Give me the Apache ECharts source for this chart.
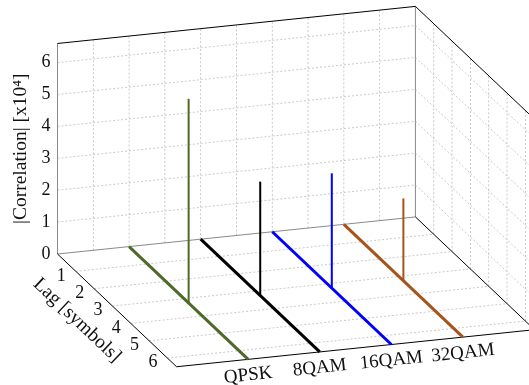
<!DOCTYPE html>
<html>
<head>
<meta charset="utf-8">
<script src="https://cdn.jsdelivr.net/npm/echarts@6/dist/echarts.min.js"></script>
<style>
  html, body { margin: 0; padding: 0; background: #ffffff; }
  #chart { width: 529px; height: 385px; }
</style>
</head>
<body>
<div id="chart"></div>
<script>
// Peak |correlation| (x10^4) of each modulation format and the lag where it occurs.
const modulations = ['QPSK', '8QAM', '16QAM', '32QAM'];
const modulationPos = [1, 2, 3, 4];
const peakCorrelation = [6.4, 3.57, 3.6, 2.58];
const peakLag = [3.25, 3.25, 3.25, 3.25];
const lineColors = ['#4e6a2a', '#000000', '#0000ff', '#a5541b'];

// Axis ranges and ticks of the 3-D box.
const formatRange = [0, 5];
const formatGrid = [0.5, 1, 1.5, 2, 2.5, 3, 3.5, 4, 4.5];
const lagRange = [0, 6.5];
const lagTicks = [1, 2, 3, 4, 5, 6];
const corrRange = [0, 6.6];
const corrTicks = [0, 1, 2, 3, 4, 5, 6];

// Orthographic camera: azimuth/elevation in degrees, plot-box aspect,
// scale in px per box unit and the pixel where the back-left floor corner sits.
const camera = {
  azimuth: -18.3,
  elevation: 18.25,
  aspect: [1, 1.006, 0.588],
  pxPerUnit: 377,
  anchor: [57.5, 254]
};

const FAMILY = '"Liberation Serif", "Times New Roman", serif';
const TICK_FONT = '18px ' + FAMILY;
const CATEGORY_FONT = '19px ' + FAMILY;
const TITLE_FONT = '19.5px ' + FAMILY;
const GRID_STYLE = { stroke: '#bcbcbc', lineWidth: 0.8, lineDash: [2, 2] };

function project(fx, lag, corr) {
  const X = (fx - formatRange[0]) / (formatRange[1] - formatRange[0]);
  const Yr = 1 - (lag - lagRange[0]) / (lagRange[1] - lagRange[0]); // lag grows toward the viewer
  const Z = (corr - corrRange[0]) / (corrRange[1] - corrRange[0]);
  const a = camera.azimuth * Math.PI / 180;
  const e = camera.elevation * Math.PI / 180;
  const [ax, ay, az] = camera.aspect;
  const h = Math.cos(a) * ax * X + Math.sin(a) * ay * Yr;
  const v = -Math.sin(e) * Math.sin(a) * ax * X + Math.sin(e) * Math.cos(a) * ay * Yr + Math.cos(e) * az * Z;
  return [h, v];
}

const chartDom = document.getElementById('chart');
const chart = echarts.init(chartDom, null, { renderer: 'canvas' });
const W = chartDom.clientWidth, H = chartDom.clientHeight;

// 2-D view-plane window that frames the projected box.
const corner = project(formatRange[0], lagRange[0], corrRange[0]);
const viewXMin = corner[0] - camera.anchor[0] / camera.pxPerUnit;
const viewXMax = viewXMin + W / camera.pxPerUnit;
const viewYMax = corner[1] + camera.anchor[1] / camera.pxPerUnit;
const viewYMin = viewYMax - H / camera.pxPerUnit;

// Segment list: [fx0, lag0, corr0, fx1, lag1, corr1]
const F0 = formatRange[0], F1 = formatRange[1];
const L0 = lagRange[0], L1 = lagRange[1];
const C0 = corrRange[0], C1 = corrRange[1];

const gridSegments = [];
formatGrid.forEach(f => gridSegments.push([f, L0, C0, f, L0, C1]));       // back wall, verticals
corrTicks.slice(1).forEach(c => gridSegments.push([F0, L0, c, F1, L0, c])); // back wall, levels
lagTicks.forEach(l => gridSegments.push([F1, l, C0, F1, l, C1]));          // side wall, verticals
corrTicks.slice(1).forEach(c => gridSegments.push([F1, L0, c, F1, L1, c])); // side wall, levels
lagTicks.forEach(l => gridSegments.push([F0, l, C0, F1, l, C0]));          // floor

const boxSegments = [
  [F0, L0, C0, F0, L0, C1, '#8a8a8a'],
  [F1, L0, C0, F1, L0, C1, '#8a8a8a'],
  [F0, L0, C0, F1, L0, C0, '#8a8a8a'],
  [F0, L0, C1, F1, L0, C1, '#000000'],
  [F1, L0, C1, F1, L1, C1, '#000000'],
  [F1, L0, C0, F1, L1, C0, '#000000'],
  [F0, L0, C0, F0, L1, C0, '#000000'],
  [F0, L1, C0, F1, L1, C0, '#000000']
];

function segmentSeries(name, data, styleOf, z) {
  return {
    type: 'custom',
    name: name,
    coordinateSystem: 'cartesian2d',
    silent: true,
    clip: false,
    z: z,
    data: data,
    renderItem: function (params, api) {
      const p0 = api.coord(project(api.value(0), api.value(1), api.value(2)));
      const p1 = api.coord(project(api.value(3), api.value(4), api.value(5)));
      return {
        type: 'line',
        shape: { x1: p0[0], y1: p0[1], x2: p1[0], y2: p1[1] },
        style: styleOf(params.dataIndex)
      };
    }
  };
}

// Text labels: [fx, lag, corr, text, dx, dy, rotation, align, font]
function labelSeries(name, data, z) {
  return {
    type: 'custom',
    name: name,
    coordinateSystem: 'cartesian2d',
    silent: true,
    clip: false,
    z: z,
    data: data.map((d, i) => [i]),
    renderItem: function (params, api) {
      const item = data[params.dataIndex];
      const p = api.coord(project(item[0], item[1], item[2]));
      return {
        type: 'text',
        x: p[0] + item[4],
        y: p[1] + item[5],
        rotation: item[6],
        style: {
          text: item[3],
          font: item[8],
          fill: '#111111',
          align: item[7],
          verticalAlign: 'middle'
        }
      };
    }
  };
}

const series = [];
series.push(segmentSeries('grid', gridSegments, () => GRID_STYLE, 1));
series.push(segmentSeries('box', boxSegments.map(s => s.slice(0, 6)),
  i => ({ stroke: boxSegments[i][6], lineWidth: 1 }), 2));

modulations.forEach((m, i) => {
  const pos = modulationPos[i];
  const floor = [[pos, L0, 0, pos, L1, 0]];
  const spike = [[pos, peakLag[i], 0, pos, peakLag[i], peakCorrelation[i]]];
  series.push(segmentSeries(m, floor, () => ({ stroke: lineColors[i], lineWidth: 3, lineCap: 'butt' }), 3));
  series.push(segmentSeries(m, spike, () => ({ stroke: lineColors[i], lineWidth: 2, lineCap: 'butt' }), 3));
});

const labels = [];
corrTicks.forEach(c => labels.push([F0, L0, c, String(c), -7, 0, 0, 'right', TICK_FONT]));
lagTicks.forEach(l => labels.push([F0, l, C0, String(l), -14.5, 4.5, 0, 'center', TICK_FONT]));
modulations.forEach((m, i) => labels.push([modulationPos[i], L1, C0, m, 0, 16, 0.106, 'center', CATEGORY_FONT]));
labels.push([F0, (L0 + L1) / 2, C0, 'Lag [symbols]', -40, 10, -0.76, 'center', TITLE_FONT]);
labels.push([F0, L0, (C0 + C1) / 2, '|Correlation| [x10\u2074]', -37, 0, Math.PI / 2, 'center', TITLE_FONT]);
series.push(labelSeries('labels', labels, 4));

chart.setOption({
  animation: false,
  backgroundColor: '#ffffff',
  grid: { left: 0, right: 0, top: 0, bottom: 0 },
  xAxis: { type: 'value', min: viewXMin, max: viewXMax, show: false },
  yAxis: { type: 'value', min: viewYMin, max: viewYMax, show: false },
  series: series
});
</script>
</body>
</html>
